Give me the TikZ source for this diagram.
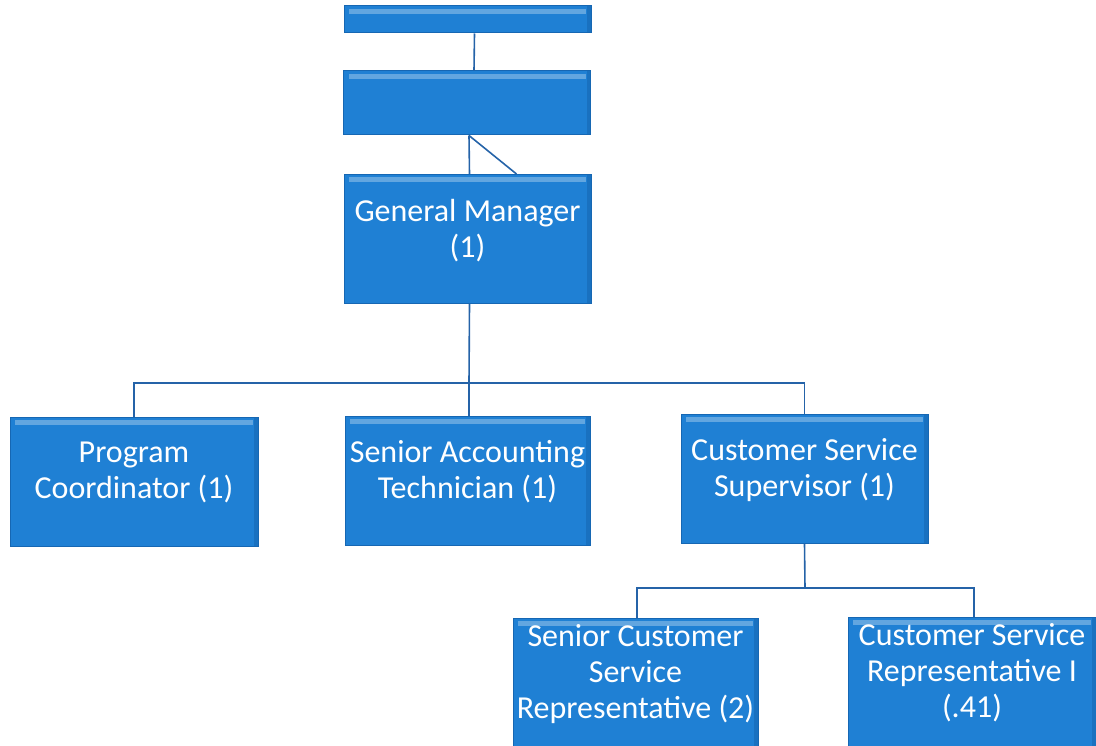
\documentclass[tikz,border=0pt]{standalone}
\usepackage{fontspec}
\setmainfont{Carlito}
\usepackage{xcolor}
\definecolor{OrgBlue}{HTML}{1F80D4}
\definecolor{OrgEdge}{HTML}{1667B3}
\definecolor{OrgLine}{HTML}{2563A8}
\usetikzlibrary{positioning}

\begin{document}
\begin{tikzpicture}[
  x=1pt, y=-1pt,
  box/.style={draw=OrgEdge, fill=OrgBlue, line width=1pt, minimum width=247pt, minimum height=129pt,
    inner sep=2pt, align=center, text=white, font=\fontsize{32}{36}\selectfont, text depth=22pt,
    path picture={
      \fill[white, opacity=0.3] ([xshift=5pt,yshift=-3pt]path picture bounding box.north west)
        rectangle ([xshift=-5pt,yshift=-8pt]path picture bounding box.north east);
      \fill[OrgEdge, opacity=0.6] ([xshift=-4pt]path picture bounding box.north east)
        rectangle (path picture bounding box.south east);
    }},
  link/.style={draw=OrgLine, line width=1.6pt},
]
\useasboundingbox (0,0) rectangle (1096,746);

% top of the chart
\node[box, minimum height=27pt, text depth=0pt] (top) at (467.5,19.5) {};
\node[box, minimum height=64pt] (unit) at (467,103) {};
\node[box] (gm) at (467.5,239) {General Manager\\(1)};

% direct reports
\node[box, minimum width=248pt] (prog) at (134,481.5) {Program\\Coordinator (1)};
\node[box, minimum width=245pt] (acct) at (467.5,480.5) {Senior Accounting\\Technician (1)};
\node[box] (csup) at (804.5,478.5) {Customer Service\\Supervisor (1)};

% customer service staff
\node[box, minimum width=245pt] (srep) at (635.5,682.5) {Senior Customer\\Service\\Representative (2)};
\node[box, minimum width=248pt] (rep) at (972,681.5) {Customer Service\\Representative I\\(.41)};

\coordinate (busA) at (469,383);
\coordinate (busB) at (805,588);

\draw[link] ([xshift=7pt]top.south) -- ([xshift=7pt]unit.north);
\draw[link] ([xshift=2pt]unit.south) -- ([xshift=2pt]gm.north);
\draw[link] ([xshift=2pt]unit.south) -- ([xshift=49pt]gm.north);
\draw[link] ([xshift=2pt]gm.south) -- (busA);
\draw[link] (prog.north) |- (busA) -| (csup.north);
\draw[link] (busA) -- ([xshift=1.5pt]acct.north);
\draw[link] (csup.south) -- (busB);
\draw[link] ([xshift=1.5pt]srep.north) |- (busB) -| ([xshift=2pt]rep.north);
\end{tikzpicture}
\end{document}
